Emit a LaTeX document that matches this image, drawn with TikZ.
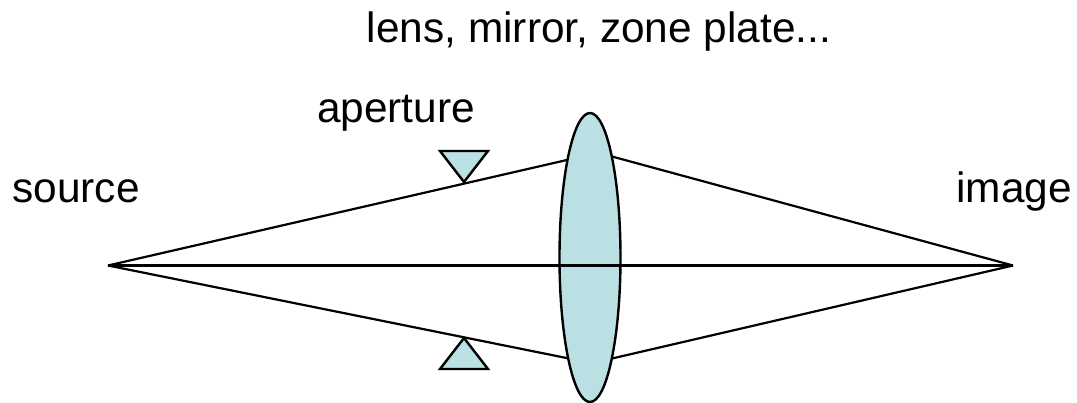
\documentclass[tikz,border=0pt]{standalone}
\usepackage{fontspec}
\setmainfont{Liberation Sans}
\definecolor{fillblue}{RGB}{186,224,228}
\tikzset{
  lbl/.style={inner sep=0pt,font=\fontsize{42.4pt}{44pt}\selectfont,text=black,anchor=base},
  ln/.style={draw=black,line width=2.2pt},
  axisln/.style={draw=black,line width=3pt},
  blue/.style={draw=black,line width=2.4pt,fill=fillblue,line join=miter}
}
\begin{document}
\begin{tikzpicture}[x=1pt,y=-1pt]
\useasboundingbox (0,0) rectangle (1077,402);
\coordinate (src) at (108,265.5);
\coordinate (img) at (1013,265.5);
\coordinate (lt) at (569,159.5);
\coordinate (lb) at (569,358.5);
\coordinate (rt) at (612,156.5);
\coordinate (rb) at (612,358.5);
\draw[ln] (src) -- (lt);
\draw[ln] (src) -- (lb);
\draw[ln] (rt) -- (img);
\draw[ln] (rb) -- (img);
\draw[blue] (590,257.5) ellipse [x radius=30.5,y radius=144.5];
\draw[axisln] (src) -- (img);
\draw[blue] (440,151) -- (488,151) -- (464,182) -- cycle;
\draw[blue] (440,369) -- (488,369) -- (464,338) -- cycle;
\node[lbl] (t1) at (599,42) {lens, mirror, zone plate...};
\node[lbl] (t2) at (396,122) {aperture};
\node[lbl] (t3) at (76,202) {source};
\node[lbl] (t4) at (1014,202) {image};
\end{tikzpicture}
\end{document}
